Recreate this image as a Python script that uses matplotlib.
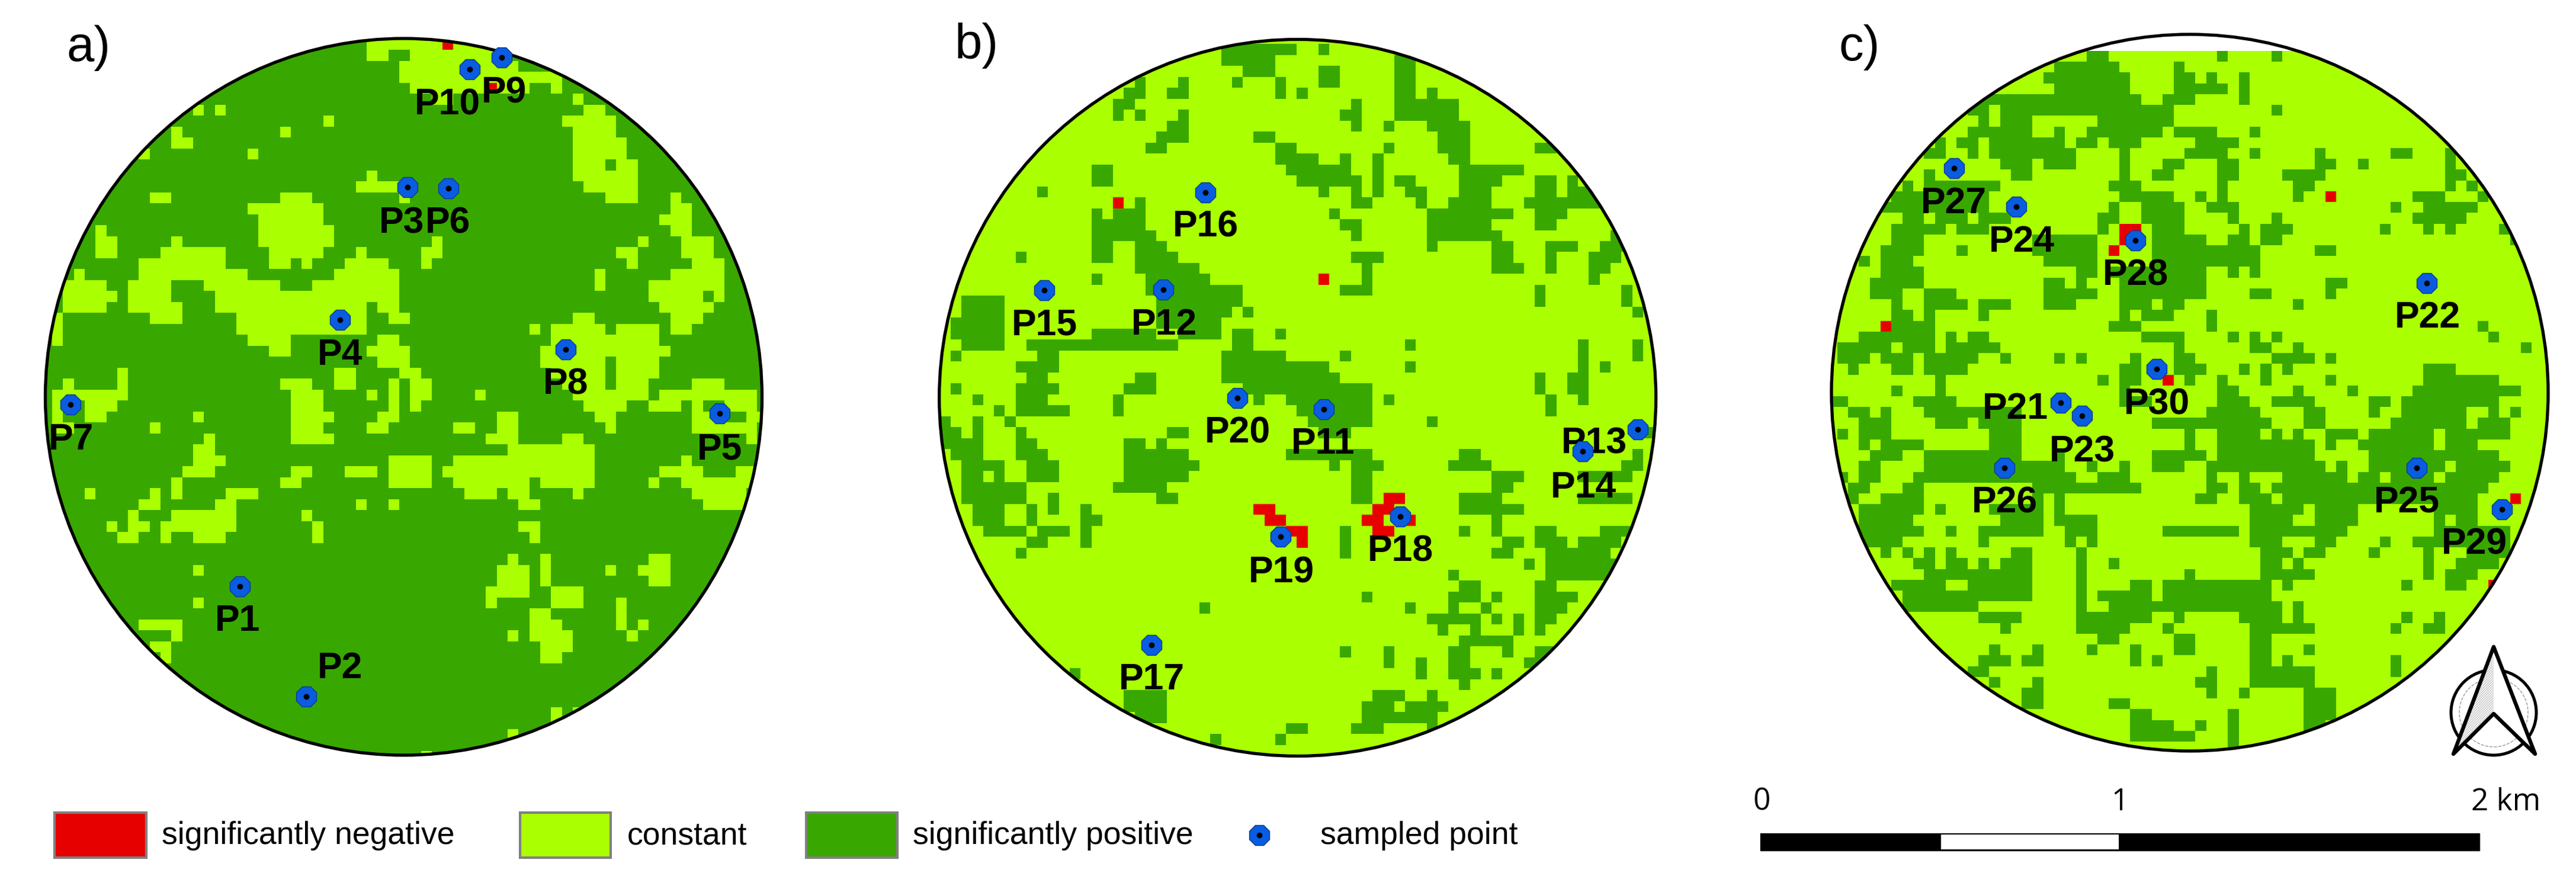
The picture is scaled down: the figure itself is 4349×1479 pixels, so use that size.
import matplotlib
matplotlib.use('Agg')
import matplotlib.pyplot as plt
from matplotlib.colors import ListedColormap
from matplotlib.patches import Circle, Polygon, Rectangle
import numpy as np

WIDTH, HEIGHT = 4349, 1479
RED, LIGHT, DARK, BLUE = '#e60000', '#aaff00', '#38a800', '#0a5ce0'

# panel a: dark background, these are the "constant" cells, row: "first-stop ..."
A_CONSTANT_RUNS = {
    0: "30-37 38-42", 1: "30-32 34-42", 2: "33-39 40-44", 3: "33-48", 4: "34-41 42-45 47-48",
    5: "36-38 49-50", 6: "14-15 16-17 50-52", 7: "26-27 48-53", 8: "12-13 22-23 49-53", 9: "12-14 49-54",
    10: "9-10 19-20 49-54", 11: "49-52 53-55", 12: "30-31 49-55", 13: "29-33 50-55",
    14: "10-12 22-25 33-34 52-55 58-59", 15: "19-26 58-60", 16: "20-26 57-60", 17: "5-6 20-27 58-60",
    18: "5-7 12-13 20-27 36-37 55-56 59-62", 19: "5-7 11-17 21-26 29-30 35-37 53-55 59-62",
    20: "9-17 21-23 24-25 28-32 35-36 54-55 60-63", 21: "3-4 9-19 27-33 51-52 58-63",
    22: "2-6 8-12 15-22 25-33 51-52 56-63", 23: "2-7 8-12 16-33 56-61 62-63",
    24: "2-6 8-13 16-30 31-33 57-62", 25: "1-2 10-13 18-30 32-34 49-51 58-61",
    26: "1-2 18-30 45-46 47-52 53-57 58-60", 27: "1-2 19-23 31-33 47-53 53-57", 28: "21-23 30-34 46-58",
    29: "31-34 46-52 53-57", 30: "7-8 27-29 33-35 47-52 53-57",
    31: "2-3 7-8 22-25 27-29 32-33 34-36 48-52 53-56 60-63",
    32: "1-8 23-26 30-31 32-33 34-36 40-41 49-56 57-66",
    33: "1-2 4-7 23-26 32-33 34-35 50-54 56-59 60-61 63-66",
    34: "1-2 4-6 14-15 23-27 31-33 42-44 51-53 60-62 65-67",
    35: "1-3 10-11 23-26 30-32 38-40 42-44 52-53 60-66", 36: "15-16 23-27 41-44 48-50 65-66",
    37: "14-16 43-51", 38: "14-17 32-36 38-51 59-60", 39: "13-16 23-25 28-31 32-36 37-51 57-61 64-66",
    40: "12-13 22-24 32-36 38-44 44-45 46-51 56-57 59-66", 41: "4-5 10-11 12-13 17-20 39-42 43-45 49-50 60-65",
    42: "9-11 16-18 29-30 32-33 44-46 61-65", 43: "8-9 12-18 24-25", 44: "6-7 8-10 11-18 25-26 44-46",
    45: "7-9 11-12 14-17 25-26 45-46", 47: "43-44 46-47 56-58", 48: "14-15 42-45 46-47 52-53 55-58",
    49: "42-45 46-47 56-58", 50: "41-45 47-50", 51: "14-15 41-42 47-50 53-54", 52: "45-47 53-54",
    53: "9-13 45-48 53-54 55-56", 54: "12-13 43-44 45-49 54-55", 55: "10-12 46-49", 56: "11-12 46-48",
    59: "53-55", 61: "47-48 49-50", 62: "47-48", 63: "43-44", 65: "35-36",
}
A_NEGATIVE_CELLS = [(0, 37), (4, 41)]

# panel b: light background, these are the "significantly positive" cells
B_POSITIVE_RUNS = {
    1: "27-34 36-37", 2: "27-32 43-45", 3: "29-32 36-38 43-45", 4: "19-20 23-24 28-29 32-33 36-38 43-45",
    5: "18-20 22-24 32-33 34-35 43-45 46-47", 6: "17-19 39-40 43-49", 7: "17-18 19-20 23-24 38-40 43-49",
    8: "22-24 39-40 42-43 46-50", 9: "21-24 30-32 47-50", 10: "20-22 32-34 42-43 47-50 56-58",
    11: "32-36 38-39 41-42 48-50", 12: "15-17 33-39 41-42 49-55", 13: "15-17 34-40 41-42 43-45 49-53 56-58 59-60",
    14: "10-11 36-37 39-40 41-42 44-46 49-52 56-58 59-62", 15: "19-20 39-41 45-46 48-52 55-63",
    16: "15-16 17-20 37-38 46-54 56-59", 17: "15-20 38-40 46-52 56-58", 18: "15-21 39-40 46-53 63-64",
    19: "15-17 19-22 46-47 52-54 57-60 62-65", 20: "8-9 15-17 19-23 39-42 52-54 57-58 61-64",
    21: "19-25 40-41 52-55 57-58 61-63", 22: "15-16 20-26 40-41 61-62", 23: "20-29 38-41 56-57 64-65",
    24: "3-7 21-29 56-57 64-65", 25: "3-7 21-28 29-30 65-66", 26: "2-7 21-27",
    27: "2-7 15-21 23-27 28-30 32-33", 28: "3-7 9-23 28-30 44-45 60-61 65-66",
    29: "2-3 10-12 27-33 38-39 60-61 65-66", 30: "8-12 27-37 44-45 60-61 62-63",
    31: "9-11 19-21 27-38 56-57 59-61", 32: "2-3 8-12 18-21 29-41 56-57 59-61",
    33: "4-5 8-11 17-18 30-31 33-41 42-43 57-58 60-61", 34: "6-7 8-13 17-18 34-41 57-58",
    35: "1-2 4-5 7-8 35-41 46-47", 36: "1-3 4-5 8-9 22-24 36-39 65-67", 37: "1-5 8-10 18-20 21-22",
    38: "2-5 8-11 18-24 33-39 39-41 49-51 65-66", 39: "3-7 9-12 18-25 37-38 39-42 48-52 64-66",
    40: "3-5 6-7 9-12 18-24 39-41 52-55 60-65", 41: "3-9 17-22 39-41 52-54",
    42: "3-9 11-12 21-23 39-41 49-53 60-65", 43: "4-7 9-10 11-12 14-15 49-55", 44: "4-7 9-10 14-16 52-53",
    45: "5-9 10-13 14-15 38-39 49-50 52-53 56-58 62-65", 46: "9-11 14-15 38-39 53-55 56-59 60-64",
    47: "8-9 38-39 52-54 57-63", 48: "55-56 57-64", 49: "48-49 57-63", 50: "49-51 56-58",
    51: "40-41 48-51 52-53 56-60", 52: "25-26 44-45 48-49 51-52 56-59", 53: "46-51 52-53 54-55 56-58",
    54: "47-48 50-51 54-55 56-57", 55: "49-54", 56: "38-39 42-43 48-50 53-54 56-59",
    57: "42-43 45-46 48-50 55-57", 58: "13-14 45-46 48-51 52-53", 59: "49-50", 60: "18-22 41-44 46-47",
    61: "18-22 40-43 44-48", 62: "19-22 40-47", 63: "33-35 39-42 46-47", 64: "26-27 32-33",
}
B_NEGATIVE_CELLS = [(15, 17), (22, 36), (43, 30), (43, 31), (44, 31), (44, 32), (45, 33), (45, 34), (46, 34),
                    (42, 42), (42, 43), (43, 41), (43, 42), (44, 40), (44, 41), (44, 44), (45, 41), (45, 42)]

# panel c: light background again
C_POSITIVE_RUNS = {
    0: "24-26 36-37 41-42", 1: "21-27 32-33", 2: "20-28 32-34 35-36 38-39", 3: "21-28 32-37 38-39",
    4: "14-29 31-34 38-39", 5: "13-15 16-32 41-42", 6: "14-15 16-19 25-32",
    7: "13-19 21-22 24-31 32-36 39-40", 8: "10-11 12-14 15-22 23-25 26-29 34-38",
    9: "9-11 13-14 15-23 27-28 33-37 39-40 45-46 52-54 57-58",
    10: "16-19 20-23 27-28 31-33 36-38 45-47 49-50 57-58", 11: "9-10 17-19 27-28 30-32 36-38 42-46 57-59",
    12: "7-8 9-16 26-29 36-37 43-45 57-58 59-60", 13: "6-15 27-32 34-35 36-37 43-44 54-57 60-61",
    14: "5-15 26-27 29-33 35-38 52-53 55-60", 15: "7-9 10-13 14-17 25-27 29-33 37-38 41-42 54-59",
    16: "6-11 12-15 25-26 30-33 38-39 40-43 51-52 55-56 57-58 62-63", 17: "6-9 19-25 30-35 37-39 40-42 63-64",
    18: "5-9 12-13 19-25 30-40 45-47", 19: "3-4 5-8 20-25 30-40", 20: "5-9 23-25 26-35 37-38 39-40",
    21: "4-9 20-22 23-24 27-35 46-48", 22: "4-7 9-12 20-25 27-35 39-41 46-47",
    23: "6-7 9-13 14-17 20-23 27-30 31-33 43-44", 24: "6-8 9-10 14-15 27-28 29-32 35-36",
    25: "6-10 26-29 35-36 60-61", 26: "3-10 11-12 13-15 29-33 37-38 39-40 41-42 61-62",
    27: "1-6 7-10 11-16 32-33 39-41 43-44 64-65", 28: "1-4 5-8 9-14 16-17 21-22 23-24 28-29 32-34 41-45 46-47",
    29: "2-3 6-8 9-13 27-29 32-35 38-39 40-41 42-43 55-58", 30: "10-11 25-26 27-29 33-34 36-37 40-41 46-47 55-62",
    31: "6-7 10-11 27-28 36-38 43-44 48-49 54-64", 32: "0-2 8-12 27-30 36-39 41-45 50-52 53-62",
    33: "2-4 5-6 9-18 35-40 44-46 50-51 53-59 61-62 63-64", 34: "3-6 10-13 14-18 30-41 44-46 52-59 60-63",
    35: "1-2 3-6 15-18 33-34 36-40 41-42 43-44 46-49 50-56 57-63", 36: "3-4 5-9 15-18 33-34 36-45 46-47 49-56 57-60",
    37: "4-7 9-18 21-22 30-35 36-45 50-62", 38: "3-5 9-22 24-25 27-28 30-33 35-46 47-48 50-57 58-63",
    39: "1-2 3-5 8-23 25-28 35-36 38-39 42-48 49-51 52-56 57-62", 40: "2-4 7-9 19-29 35-37 38-40 41-61",
    41: "2-3 5-9 19-20 21-22 34-36 38-41 42-60", 42: "3-9 10-11 15-20 21-22 39-44 45-49 56-60",
    43: "3-8 16-20 21-25 39-43 45-49 56-57 58-60", 44: "3-9 11-12 14-20 22-25 31-38 39-48 56-63",
    45: "3-7 14-15 22-23 24-25 39-42 45-47 51-52 54-63",
    46: "5-6 7-8 9-10 11-12 17-19 23-24 40-43 44-46 50-51 55-56 59-63",
    47: "8-10 11-13 14-15 16-19 23-24 26-27 40-42 43-44 55-56 58-62", 48: "9-19 23-24 33-34 40-45 55-56 57-60",
    49: "6-11 13-19 23-24 28-30 31-41 42-43 53-54 57-59", 50: "7-19 23-24 25-30 31-41",
    51: "7-14 23-24 26-42 43-44", 52: "14-18 23-30 32-33 38-42 43-44 53-54 56-57",
    53: "16-17 23-28 31-32 39-45 52-53 55-57", 54: "25-27 32-34 39-41",
    55: "15-16 19-20 24-25 28-29 32-34 39-41 44-45", 56: "14-17 18-20 28-29 30-31 39-41 42-43 52-53",
    57: "13-15 35-36 39-45 52-53", 58: "15-16 19-20 34-36 39-45", 59: "18-20 35-36 38-39 44-47",
    60: "18-20 26-28 44-47", 61: "28-30 37-38 44-47", 62: "28-32 34-35 37-38 44-46", 63: "28-34 37-38", 64: "37-38",
}
C_NEGATIVE_CELLS = [(13, 46), (25, 5), (16, 27), (16, 28), (17, 27), (18, 26), (30, 31), (41, 63), (49, 61)]

A_NAMES = ['P1', 'P2', 'P3', 'P4', 'P5', 'P6', 'P7', 'P8', 'P9', 'P10']
A_X = [405, 517, 688, 574, 1215, 757, 119, 955, 847, 793]
A_Y = [990, 1176, 316, 540, 698, 318, 683, 590, 97, 117]
A_LABEL_X = [401, 574, 678, 574, 1215, 756, 120, 955, 851, 755]
A_LABEL_Y = [1040, 1120, 368, 591, 750, 368, 734, 641, 148, 168]

B_NAMES = ['P11', 'P12', 'P13', 'P14', 'P15', 'P16', 'P17', 'P18', 'P19', 'P20']
B_X = [2235, 1964, 2765, 2672, 1763, 2035, 1944, 2364, 2162, 2089]
B_Y = [691, 489, 725, 762, 490, 325, 1089, 872, 906, 672]
B_LABEL_X = [2234, 1965, 2691, 2673, 1763, 2035, 1944, 2364, 2163, 2089]
B_LABEL_Y = [741, 540, 741, 815, 540, 375, 1139, 923, 958, 723]

C_NAMES = ['P21', 'P22', 'P23', 'P24', 'P25', 'P26', 'P27', 'P28', 'P29', 'P30']
C_X = [3479, 4097, 3515, 3404, 4080, 3384, 3299, 3605, 4224, 3641]
C_Y = [680, 478, 702, 349, 790, 790, 284, 406, 860, 623]
C_LABEL_X = [3402, 4098, 3515, 3414, 4063, 3384, 3298, 3605, 4177, 3642]
C_LABEL_Y = [682, 528, 754, 400, 841, 841, 335, 456, 911, 674]

LEGEND_LABELS = ['significantly negative', 'constant', 'significantly positive', 'sampled point']


def make_grid(runs, negative, base, other, rows, cols):
    grid = np.full((rows, cols), base)
    for row, text in runs.items():
        for run in text.split():
            start, stop = run.split('-')
            grid[row, int(start):int(stop)] = other
    for row, col in negative:
        grid[row, col] = 0
    return grid


def draw_point(ax, x, y):
    ax.plot(x, y, ls='', marker='8', ms=27, mfc=BLUE, mec='#0b3a8c', mew=1, zorder=4)
    ax.plot(x, y, ls='', marker='o', ms=6, color='black', zorder=5)


def draw_panel(ax, grid, x0, y0, dx, dy, center, x, y, names, label_x, label_y):
    xs = x0 + dx * np.arange(grid.shape[1] + 1)
    ys = y0 + dy * np.arange(grid.shape[0] + 1)
    cmap = ListedColormap([RED, LIGHT, DARK])
    mesh = ax.pcolormesh(xs, ys, grid, cmap=cmap, vmin=0, vmax=2, zorder=1)
    clip = Circle(center, 605, transform=ax.transData)
    mesh.set_clip_path(clip)
    ax.add_patch(Circle(center, 605, fill=False, ec='black', lw=3.8, zorder=2))
    for name, lx, ly in zip(names, label_x, label_y):
        ax.text(lx, ly + 25, name, ha='center', va='baseline', fontsize=45, fontweight='bold',
                family='Liberation Sans', zorder=3)
    draw_point(ax, x, y)


fig = plt.figure(figsize=(WIDTH / 100, HEIGHT / 100), dpi=100)
ax = fig.add_axes([0, 0, 1, 1])
ax.set_xlim(0, WIDTH)
ax.set_ylim(HEIGHT, 0)
ax.axis('off')

draw_panel(ax, make_grid(A_CONSTANT_RUNS, A_NEGATIVE_CELLS, 2, 1, 67, 68), 69.7, 66.0, 18.31, 18.49,
           (681.5, 670), A_X, A_Y, A_NAMES, A_LABEL_X, A_LABEL_Y)
draw_panel(ax, make_grid(B_POSITIVE_RUNS, B_NEGATIVE_CELLS, 1, 2, 67, 68), 1568.6, 55.7, 18.26, 18.49,
           (2190.7, 671.5), B_X, B_Y, B_NAMES, B_LABEL_X, B_LABEL_Y)
draw_panel(ax, make_grid(C_POSITIVE_RUNS, C_NEGATIVE_CELLS, 1, 2, 66, 68), 3083.4, 86.0, 18.32, 18.22,
           (3697, 663), C_X, C_Y, C_NAMES, C_LABEL_X, C_LABEL_Y)

for letter, lx, ly in [('a)', 113, 103), ('b)', 1612, 99), ('c)', 3105, 102)]:
    ax.text(lx, ly, letter, fontsize=60, family='Liberation Sans', ha='left', va='baseline')

# legend
for left, right, color in [(92, 247, RED), (878, 1031, LIGHT), (1361, 1515, DARK)]:
    ax.add_patch(Rectangle((left, 1372), right - left, 76, fc=color, ec='#808080', lw=3))
for lx, label in zip([273, 1059, 1541, 2229], LEGEND_LABELS):
    ax.text(lx, 1411, label, fontsize=38.5, family='Liberation Sans', ha='left', va='center')
draw_point(ax, [2126], [1410])

# scale bar
ax.add_patch(Rectangle((2972, 1407), 1214, 29, fc='black', ec='black', lw=1))
ax.add_patch(Rectangle((3277, 1409), 300, 25, fc='white', ec='none'))
for lx, label in [(2974, '0'), (3579, '1'), (4231, '2 km')]:
    ax.text(lx, 1368, label, fontsize=37, family='Open Sans', ha='center', va='baseline')

# north arrow
apex, left_tip, notch, right_tip = (4210, 1092), (4142, 1273), (4210, 1205), (4280, 1273)
ax.add_patch(Circle((4210, 1203), 72, fc='white', ec='black', lw=3.6, zorder=3))
ax.add_patch(Circle((4210, 1203), 58, fill=False, ec='#999999', lw=1, ls='--', zorder=3))
ax.add_patch(Polygon([apex, right_tip, notch], fc='white', ec='none', zorder=4))
ax.add_patch(Polygon([apex, left_tip, notch], fc='white', ec='#c4c4c4', lw=0, hatch='////////', zorder=4))
ax.add_patch(Polygon([apex, left_tip, notch, right_tip], fill=False, ec='black', lw=4.6, joinstyle='round',
                     zorder=5))

fig.savefig('out.png', dpi=100)
